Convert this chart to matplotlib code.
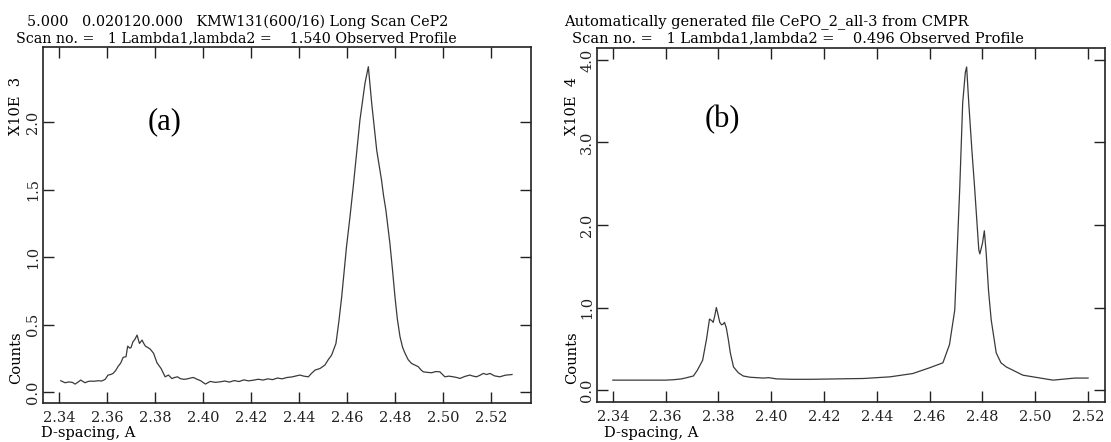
import matplotlib
matplotlib.use("Agg")
import matplotlib.pyplot as plt
from matplotlib.ticker import FormatStrFormatter

# Data
# ---------------------------------------

# (a) counts in units of 10^3
d_a = [2.3407, 2.3425, 2.3440, 2.3455, 2.3467, 2.3480, 2.3490, 2.3508, 2.3520, 2.3530,
       2.3545, 2.3563, 2.3578, 2.3592, 2.3604, 2.3615, 2.3625, 2.3636, 2.3646, 2.3657,
       2.3667, 2.3679, 2.3686, 2.3695, 2.3700, 2.3708, 2.3716, 2.3725, 2.3735, 2.3746,
       2.3753, 2.3760, 2.3770, 2.3780, 2.3794, 2.3808, 2.3825, 2.3842, 2.3856, 2.3870,
       2.3882, 2.3893, 2.3905, 2.3920, 2.3935, 2.3948, 2.3960, 2.3975, 2.3990, 2.4010,
       2.4030, 2.4050, 2.4073, 2.4090, 2.4110, 2.4130, 2.4150, 2.4170, 2.4190, 2.4210,
       2.4230, 2.4250, 2.4270, 2.4290, 2.4310, 2.4330, 2.4350, 2.4370, 2.4390, 2.4404,
       2.4420, 2.4439, 2.4453, 2.4467, 2.4488, 2.4508, 2.4522, 2.4536, 2.4554, 2.4566,
       2.4578, 2.4598, 2.4612, 2.4626, 2.4640, 2.4654, 2.4675, 2.4689, 2.4703, 2.4714,
       2.4724, 2.4734, 2.4744, 2.4752, 2.4762, 2.4770, 2.4779, 2.4790, 2.4800, 2.4810,
       2.4821, 2.4832, 2.4842, 2.4855, 2.4869, 2.4883, 2.4897, 2.4908, 2.4918, 2.4935,
       2.4953, 2.4970, 2.4987, 2.5008, 2.5025, 2.5043, 2.5057, 2.5071, 2.5090, 2.5112,
       2.5126, 2.5140, 2.5155, 2.5168, 2.5182, 2.5196, 2.5215, 2.5237, 2.5260, 2.5288]
c_a = [0.084, 0.069, 0.075, 0.072, 0.059, 0.075, 0.089, 0.069, 0.078, 0.081,
       0.080, 0.084, 0.082, 0.094, 0.126, 0.130, 0.138, 0.160, 0.190, 0.215,
       0.257, 0.262, 0.340, 0.325, 0.330, 0.373, 0.390, 0.422, 0.360, 0.385,
       0.360, 0.340, 0.330, 0.318, 0.287, 0.217, 0.175, 0.113, 0.126, 0.100,
       0.108, 0.113, 0.100, 0.094, 0.098, 0.104, 0.108, 0.095, 0.084, 0.059,
       0.079, 0.072, 0.076, 0.082, 0.074, 0.085, 0.078, 0.090, 0.083, 0.088,
       0.095, 0.089, 0.098, 0.092, 0.104, 0.098, 0.108, 0.112, 0.120, 0.126,
       0.118, 0.113, 0.140, 0.163, 0.175, 0.200, 0.240, 0.274, 0.360, 0.520,
       0.706, 1.076, 1.290, 1.520, 1.770, 2.015, 2.287, 2.410, 2.140, 1.960,
       1.790, 1.680, 1.570, 1.460, 1.350, 1.230, 1.100, 0.900, 0.706, 0.540,
       0.410, 0.330, 0.287, 0.240, 0.212, 0.200, 0.188, 0.165, 0.150, 0.146,
       0.143, 0.152, 0.150, 0.113, 0.118, 0.113, 0.108, 0.101, 0.115, 0.126,
       0.118, 0.113, 0.125, 0.138, 0.130, 0.138, 0.120, 0.113, 0.125, 0.130]

# (b) counts in units of 10^4
d_b = [2.340, 2.350, 2.360, 2.363, 2.366, 2.368, 2.3705, 2.372, 2.374, 2.3755,
       2.3766, 2.3775, 2.3780, 2.3786, 2.3792, 2.3798, 2.3805, 2.3812, 2.3818, 2.3823,
       2.3830, 2.3838, 2.3845, 2.3857, 2.3875, 2.3894, 2.392, 2.397, 2.399, 2.402,
       2.408, 2.415, 2.425, 2.435, 2.445, 2.4536, 2.460, 2.465, 2.4675, 2.4695,
       2.4714, 2.4725, 2.4735, 2.4740, 2.4748, 2.476, 2.477, 2.4786, 2.4790, 2.4800,
       2.4807, 2.4814, 2.4823, 2.4833, 2.4852, 2.487, 2.489, 2.4953, 2.5067, 2.515,
       2.520]
c_b = [0.12, 0.12, 0.12, 0.125, 0.135, 0.15, 0.17, 0.24, 0.36, 0.62,
       0.86, 0.84, 0.82, 0.90, 1.00, 0.92, 0.82, 0.79, 0.80, 0.82,
       0.75, 0.60, 0.45, 0.28, 0.21, 0.17, 0.155, 0.145, 0.15, 0.135,
       0.13, 0.13, 0.135, 0.14, 0.16, 0.20, 0.27, 0.33, 0.55, 0.97,
       2.46, 3.48, 3.85, 3.915, 3.48, 2.90, 2.46, 1.70, 1.65, 1.78,
       1.93, 1.66, 1.20, 0.85, 0.45, 0.33, 0.28, 0.18, 0.12, 0.145,
       0.145]

x_ticks = [2.34, 2.36, 2.38, 2.40, 2.42, 2.44, 2.46, 2.48, 2.50, 2.52]
y_ticks_a = [0.0, 0.5, 1.0, 1.5, 2.0]
y_ticks_b = [0.0, 1.0, 2.0, 3.0, 4.0]

title_a = ["5.000   0.020120.000   KMW131(600/16) Long Scan CeP2",
           "Scan no. =   1 Lambda1,lambda2 =    1.540 Observed Profile"]
title_b = ["Automatically generated file CePO_2_all-3 from CMPR",
           "Scan no. =   1 Lambda1,lambda2 =    0.496 Observed Profile"]

FONT = "DejaVu Serif"
LINE = "#3a3a3a"

fig = plt.figure(figsize=(11.11, 4.42), dpi=100)
ax_a = fig.add_axes([43/1111, 1 - 403/442, 488/1111, 356/442])
ax_b = fig.add_axes([597/1111, 1 - 402/442, 508/1111, 354/442])

ax_a.plot(d_a, c_a, color=LINE, lw=0.9)
ax_b.plot(d_b, c_b, color=LINE, lw=0.9)

ax_a.set_xlim(2.3333, 2.5367)
ax_a.set_ylim(-0.081, 2.556)
ax_b.set_xlim(2.334, 2.5264)
ax_b.set_ylim(-0.145, 4.145)
ax_a.set_yticks(y_ticks_a)
ax_b.set_yticks(y_ticks_b)

for ax in (ax_a, ax_b):
    ax.set_xticks(x_ticks)
    ax.xaxis.set_major_formatter(FormatStrFormatter("%.2f"))
    ax.yaxis.set_major_formatter(FormatStrFormatter("%.1f"))
    ax.tick_params(direction="in", length=8, width=1, top=True, right=True,
                   colors="#222222", labelsize=10.5)
    ax.tick_params(axis="y", pad=2)
    ax.tick_params(axis="x", pad=6)
    for lab in ax.get_xticklabels() + ax.get_yticklabels():
        lab.set_family(FONT)
    for lab in ax.get_yticklabels():
        lab.set_rotation(90)
        lab.set_va("center")
    for s in ax.spines.values():
        s.set_linewidth(1.2)
        s.set_color("#222222")

# titles, two lines above each box
fig.text(27/1111, 1 - 22/442, title_a[0], family=FONT, fontsize=10.3, va="center")
fig.text(16/1111, 1 - 38/442, title_a[1], family=FONT, fontsize=10.3, va="center")
fig.text(564/1111, 1 - 22/442, title_b[0], family=FONT, fontsize=10.5, va="center")
fig.text(572/1111, 1 - 38/442, title_b[1], family=FONT, fontsize=10.5, va="center")

# axis labels
for x0, x_lab, top in ((16, 41, "X10E  3"), (572, 604, "X10E  4")):
    fig.text(x0/1111, 1 - 106/442, top, family=FONT, fontsize=10.5,
             rotation=90, ha="center", va="center")
    fig.text(x0/1111, 1 - 358/442, "Counts", family=FONT, fontsize=10.5,
             rotation=90, ha="center", va="center")
    fig.text(x_lab/1111, 1 - 433/442, "D-spacing, A", family=FONT, fontsize=10.5,
             ha="left", va="center")

ax_a.text(0.25, 0.79, "(a)", transform=ax_a.transAxes, family="Liberation Serif",
          fontsize=22, ha="center", va="center")
ax_b.text(0.246, 0.797, "(b)", transform=ax_b.transAxes, family="Liberation Serif",
          fontsize=22, ha="center", va="center")

fig.savefig("out.png", dpi=100)
